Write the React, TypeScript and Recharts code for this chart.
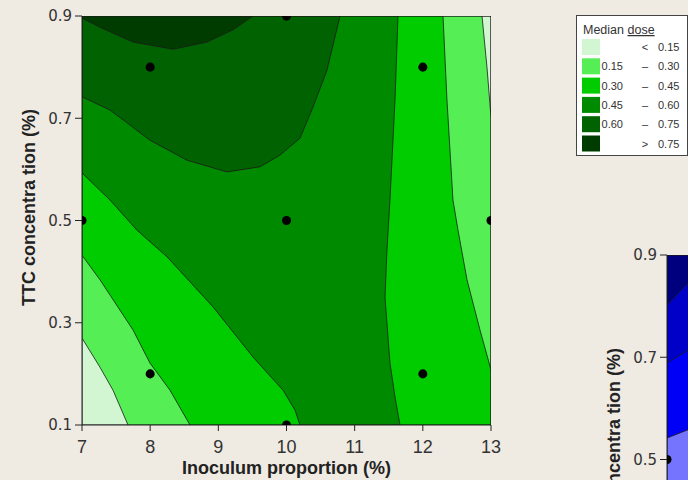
import { ScatterChart, Scatter, XAxis, YAxis } from "recharts";

const xDomain = [7, 13];
const yDomain = [0.1, 0.9];
const xTicks = [7, 8, 9, 10, 11, 12, 13];
const yTicks = [0.1, 0.3, 0.5, 0.7, 0.9];

// experimental runs (black dots)
const runs = [
  { x: 7, y: 0.5 }, { x: 8, y: 0.8 }, { x: 8, y: 0.2 },
  { x: 10, y: 0.9 }, { x: 10, y: 0.5 }, { x: 10, y: 0.1 },
  { x: 12, y: 0.8 }, { x: 12, y: 0.2 }, { x: 13, y: 0.5 },
];

// legend
const levels = ["0.15", "0.30", "0.45", "0.60", "0.75"];
const greens = ["#d2f6d2", "#55ee55", "#00cc00", "#008a00", "#006200", "#003c00"];

// contour lines of the green plot
const c15Left = [{ x: 7, y: 0.27 }, { x: 7.264, y: 0.213 }, { x: 7.455, y: 0.168 }, { x: 7.675, y: 0.1 }];
const c15Right = [{ x: 12.868, y: 0.9 }, { x: 12.941, y: 0.8 }, { x: 13, y: 0.702 }];
const c30Left = [
  { x: 7, y: 0.432 }, { x: 7.264, y: 0.384 }, { x: 7.748, y: 0.286 },
  { x: 7.998, y: 0.221 }, { x: 8.291, y: 0.168 }, { x: 8.584, y: 0.1 },
];
const c30Right = [
  { x: 12.296, y: 0.9 }, { x: 12.354, y: 0.736 }, { x: 12.442, y: 0.54 }, { x: 12.516, y: 0.481 },
  { x: 12.648, y: 0.384 }, { x: 12.838, y: 0.286 }, { x: 13, y: 0.208 },
];
const c45Left = [
  { x: 7, y: 0.593 }, { x: 7.411, y: 0.54 }, { x: 7.807, y: 0.481 }, { x: 8.247, y: 0.429 },
  { x: 8.922, y: 0.331 }, { x: 9.508, y: 0.233 }, { x: 9.949, y: 0.168 }, { x: 10.125, y: 0.129 },
  { x: 10.198, y: 0.1 },
];
const c45Right = [
  { x: 11.636, y: 0.9 }, { x: 11.592, y: 0.736 }, { x: 11.518, y: 0.54 }, { x: 11.474, y: 0.442 },
  { x: 11.445, y: 0.35 }, { x: 11.518, y: 0.221 }, { x: 11.592, y: 0.155 }, { x: 11.665, y: 0.1 },
];
const c60 = [
  { x: 7, y: 0.742 }, { x: 7.411, y: 0.716 }, { x: 7.998, y: 0.657 }, { x: 8.54, y: 0.618 },
  { x: 9.127, y: 0.595 }, { x: 9.611, y: 0.605 }, { x: 9.905, y: 0.628 }, { x: 10.198, y: 0.661 },
  { x: 10.389, y: 0.722 }, { x: 10.594, y: 0.794 }, { x: 10.785, y: 0.9 },
];
const c75 = [
  { x: 7, y: 0.896 }, { x: 7.264, y: 0.878 }, { x: 7.748, y: 0.849 }, { x: 8.335, y: 0.835 },
  { x: 8.834, y: 0.849 }, { x: 9.215, y: 0.873 }, { x: 9.508, y: 0.9 },
];

// second (blue) plot, only its left strip is in view
const blues = ["#7474ff", "#0000f6", "#0000c8", "#00007e"];
const blueRight = 7.4;
const b3 = [{ x: 7, y: 0.542 }, { x: 7.4, y: 0.563 }];
const b2 = [{ x: 7, y: 0.689 }, { x: 7.4, y: 0.721 }];
const b1 = [{ x: 7, y: 0.802 }, { x: 7.4, y: 0.858 }];

const [x0, x1] = xDomain;
const [y0, y1] = yDomain;
const TL = { x: x0, y: y1 };
const TR = { x: x1, y: y1 };
const BR = { x: x1, y: y0 };
const BL = { x: x0, y: y0 };
const rev = (a: { x: number; y: number }[]) => [...a].reverse();
const close = (a: { x: number; y: number }[]) => [...a, a[0]];

const greenBands = [
  close([TL, TR, BR, BL]),
  close([TL, ...c15Right, BR, ...rev(c15Left)]),
  close([TL, ...c30Right, BR, ...rev(c30Left)]),
  close([TL, ...c45Right, ...rev(c45Left)]),
  close([...c60, TL]),
  close([...c75, TL]),
];

const bTR = { x: blueRight, y: y1 };
const blueBands = [
  close([TL, bTR, { x: blueRight, y: y0 }, BL]),
  close([TL, bTR, ...rev(b3)]),
  close([TL, bTR, ...rev(b2)]),
  close([TL, bTR, ...rev(b1)]),
];

const frame = close([TL, TR, BR, BL]);

const noPoint = () => <g />;

function Panel({ bands, colors }: { bands: { x: number; y: number }[][]; colors: string[] }) {
  return (
    <ScatterChart width={540} height={480} margin={{ top: 16, right: 49, bottom: 25, left: 22 }}>
      <XAxis
        type="number"
        dataKey="x"
        domain={xDomain}
        ticks={xTicks}
        interval={0}
        allowDataOverflow
        tickSize={6}
        tickMargin={9}
        stroke="#222"
        tick={{ fill: "#333", fontSize: 18, fontFamily: "'Liberation Sans Narrow', 'Liberation Sans', sans-serif" }}
        label={{
          value: "Inoculum proportion (%)",
          position: "bottom",
          offset: 6,
          fill: "#222",
          fontSize: 18,
          fontWeight: 700,
          fontFamily: "'Liberation Sans', Arial, sans-serif",
        }}
      />
      <YAxis
        type="number"
        dataKey="y"
        domain={yDomain}
        ticks={yTicks}
        interval={0}
        allowDataOverflow
        width={60}
        tickSize={7}
        tickMargin={3}
        stroke="#222"
        tick={{ fill: "#333", fontSize: 15, fontFamily: "'DejaVu Sans', sans-serif" }}
        label={{
          value: "TTC concentra tion (%)",
          position: "center",
          angle: -90,
          dx: -23.5,
          dy: -13,
          fill: "#222",
          fontSize: 18,
          fontWeight: 700,
          fontFamily: "'Liberation Sans', Arial, sans-serif",
        }}
      />
      {bands.map((pts, i) => (
        <Scatter
          key={i}
          data={pts}
          line={{ fill: colors[i], stroke: "#1a1a1a", strokeWidth: 0.8 }}
          shape={noPoint}
          isAnimationActive={false}
        />
      ))}
      <Scatter data={frame} line={{ fill: "none", stroke: "#1a1a1a", strokeWidth: 1 }} shape={noPoint} isAnimationActive={false} />
      <Scatter data={runs} fill="#000" isAnimationActive={false} />
    </ScatterChart>
  );
}

function ContourLegend() {
  const rows = greens.map((c, i) => ({
    color: c,
    lo: i === 0 || i === greens.length - 1 ? "" : levels[i - 1],
    sym: i === 0 ? "<" : i === greens.length - 1 ? ">" : "–",
    hi: i === greens.length - 1 ? levels[i - 1] : levels[i],
  }));
  const font = { fontFamily: "'Liberation Sans', Arial, sans-serif", fontSize: 11, fill: "#333" };
  return (
    <svg width={112} height={142} style={{ position: "absolute", left: 576, top: 15 }}>
      <rect x={0.5} y={0.5} width={111} height={140} fill="#fff" stroke="#444" />
      <text x={7} y={19} {...font} fontSize={12.5}>
        Median <tspan textDecoration="underline">dose</tspan>
      </text>
      {rows.map((r, i) => {
        const top = 24 + i * 19.3;
        return (
          <g key={i}>
            <rect x={6} y={top} width={18} height={16} fill={r.color} />
            <text x={47} y={top + 12} textAnchor="end" {...font}>{r.lo}</text>
            <text x={69} y={top + 12} textAnchor="middle" {...font}>{r.sym}</text>
            <text x={82} y={top + 12} {...font}>{r.hi}</text>
          </g>
        );
      })}
    </svg>
  );
}

export default function App() {
  return (
    <div style={{ position: "absolute", left: 0, top: 0, width: 688, height: 480, overflow: "hidden", background: "#efebe3" }}>
      <div style={{ position: "absolute", left: 0, top: 0 }}>
        <Panel bands={greenBands} colors={greens} />
      </div>
      <div style={{ position: "absolute", left: 585, top: 239 }}>
        <Panel bands={blueBands} colors={blues} />
      </div>
      <ContourLegend />
    </div>
  );
}
